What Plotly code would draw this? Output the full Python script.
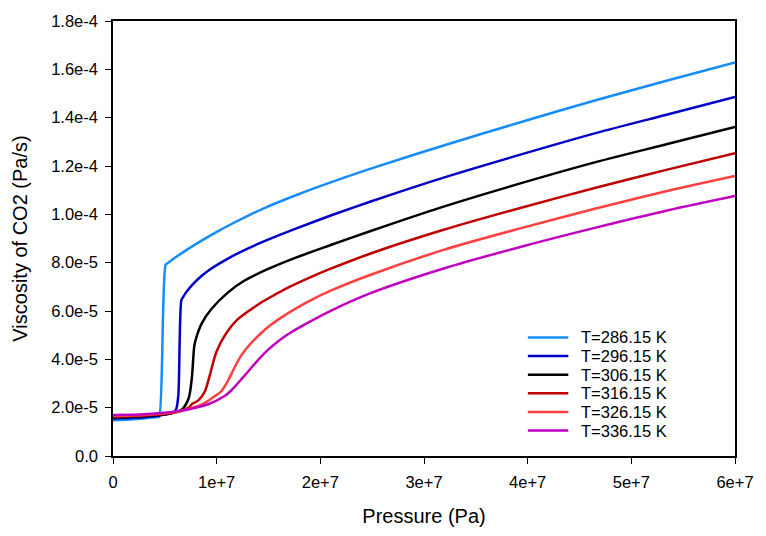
import plotly.graph_objects as go

# CO2 viscosity isotherms: pressure in MPa, viscosity in µPa·s
temperatures = ["T=286.15 K", "T=296.15 K", "T=306.15 K", "T=316.15 K", "T=326.15 K", "T=336.15 K"]
colors = ["rgb(20,140,250)", "rgb(0,0,200)", "rgb(0,0,0)", "rgb(192,0,0)", "rgb(255,64,64)", "rgb(192,0,192)"]

p_286 = [0, 2, 4.3, 4.45, 5.08, 5.25, 6.0, 7.0, 8.23, 9.8, 11.38, 13.0, 14.55, 17.7, 21.0, 24.79, 31.89, 39.46, 46.56, 53.66, 60]
mu_286 = [14.8, 15.2, 16.15, 16.2, 79.2, 79.75, 82.1, 85.0, 88.3, 92.2, 95.9, 99.4, 102.5, 108.0, 113.2, 118.8, 128.5, 138.3, 147.2, 155.6, 162.8]

p_296 = [0, 2, 4.5, 5.8, 6.1, 6.3, 6.6, 6.75, 7.0, 7.6, 8.5, 9.49, 11.0, 12.33, 14.55, 17.7, 21.0, 24.79, 31.89, 39.46, 46.56, 53.66, 60]
mu_296 = [15.5, 15.8, 16.8, 17.9, 19.5, 25.0, 64.6, 65.7, 67.4, 70.6, 74.4, 77.6, 81.5, 84.5, 88.8, 94.2, 99.5, 105.2, 115.2, 124.9, 133.6, 141.5, 148.6]

p_306 = [0, 3, 5.5, 6.65, 7.29, 7.6, 7.85, 8.07, 8.55, 9.49, 11.07, 12.65, 14.86, 17.7, 21.0, 24.79, 31.89, 39.46, 46.56, 53.66, 60]
mu_306 = [16.0, 16.5, 17.6, 19.3, 23.8, 32.1, 45.7, 49.5, 54.8, 60.8, 67.6, 72.5, 77.2, 82.2, 87.3, 93.0, 103.2, 113.0, 121.6, 129.3, 136.2]

p_316 = [0, 3, 6, 7.29, 7.6, 8.23, 8.87, 9.34, 9.97, 10.76, 12.02, 14.22, 15.5, 16.75, 18.64, 21.0, 24.79, 31.89, 39.46, 46.56, 53.66, 60]
mu_316 = [16.3, 16.8, 18.0, 20.0, 21.4, 23.0, 26.8, 33.5, 43.0, 49.7, 56.5, 63.3, 66.5, 69.4, 73.2, 77.5, 83.7, 93.6, 102.85, 111.0, 118.7, 125.3]

p_326 = [0, 3, 6, 8.23, 8.87, 9.81, 10.44, 11.07, 11.71, 12.33, 12.97, 14.22, 15.3, 16.44, 17.7, 18.64, 21.0, 24.79, 31.89, 39.46, 46.56, 53.66, 60]
mu_326 = [16.6, 17.0, 18.2, 20.7, 22.0, 24.7, 26.8, 31.0, 36.5, 41.3, 45.0, 50.6, 54.5, 57.9, 61.2, 63.5, 68.4, 74.9, 85.3, 94.4, 102.4, 109.9, 115.9]

p_336 = [0, 3, 6.34, 9.18, 10.76, 11.38, 12.5, 14.05, 15.0, 16.0, 17.0, 18.64, 21.0, 24.79, 31.89, 39.46, 46.56, 53.66, 60]
mu_336 = [17.0, 17.3, 18.6, 21.4, 24.8, 27.0, 32.3, 40.0, 44.1, 47.7, 50.7, 54.8, 60.1, 67.3, 77.6, 86.7, 94.5, 101.8, 107.6]

pressures = [p_286, p_296, p_306, p_316, p_326, p_336]
viscosities = [mu_286, mu_296, mu_306, mu_316, mu_326, mu_336]

x_tickvals = [0, 1e7, 2e7, 3e7, 4e7, 5e7, 6e7]
x_ticktext = ["0", "1e+7", "2e+7", "3e+7", "4e+7", "5e+7", "6e+7"]
y_tickvals = [0, 2e-5, 4e-5, 6e-5, 8e-5, 1e-4, 1.2e-4, 1.4e-4, 1.6e-4, 1.8e-4]
y_ticktext = ["0.0", "2.0e-5", "4.0e-5", "6.0e-5", "8.0e-5", "1.0e-4", "1.2e-4", "1.4e-4", "1.6e-4", "1.8e-4"]

font_family = "Liberation Sans, Arial, sans-serif"

fig = go.Figure()
for name, color, p, mu in zip(temperatures, colors, pressures, viscosities):
    fig.add_trace(go.Scatter(
        x=[v * 1e6 for v in p],
        y=[v * 1e-6 for v in mu],
        mode="lines",
        name=name,
        line=dict(color=color, width=2.5, shape="spline", smoothing=0.8),
        showlegend=False,
    ))

# Legend block inside the lower-right corner of the plot area
legend_x0, legend_x1, legend_text_x = 0.667, 0.732, 0.749
legend_y_top, legend_step = 0.2725, 0.0428
for i, (name, color) in enumerate(zip(temperatures, colors)):
    yy = legend_y_top - i * legend_step
    fig.add_shape(type="line", xref="paper", yref="paper",
                  x0=legend_x0, x1=legend_x1, y0=yy, y1=yy,
                  line=dict(color=color, width=2.5))
    fig.add_annotation(xref="paper", yref="paper", x=legend_text_x, y=yy,
                       xanchor="left", yanchor="middle", text=name, showarrow=False,
                       font=dict(size=16.5, color="black"))

axis_common = dict(
    showline=True, linecolor="black", linewidth=1.5, mirror=True,
    ticks="outside", ticklen=6, tickwidth=1, tickcolor="black",
    showgrid=False, zeroline=False,
    tickfont=dict(family=font_family, size=16.5, color="black"),
    ticklabelstandoff=4,
)

fig.update_layout(
    width=766, height=536,
    margin=dict(l=113, r=19, t=12, b=80),
    paper_bgcolor="white", plot_bgcolor="white",
    font=dict(family=font_family, color="black"),
    xaxis=dict(range=[0, 6e7], tickvals=x_tickvals, ticktext=x_ticktext,
               title=dict(text="Pressure (Pa)", font=dict(size=20), standoff=19), **axis_common),
    yaxis=dict(range=[0, 1.8e-4], tickvals=y_tickvals, ticktext=y_ticktext,
               title=dict(text="Viscosity of CO2 (Pa/s)", font=dict(size=20), standoff=18), **axis_common),
    showlegend=False,
)

fig.write_html("out.html")
